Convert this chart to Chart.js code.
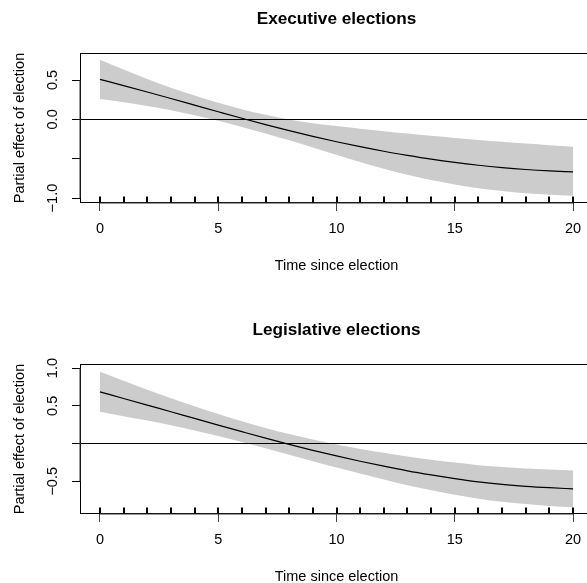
<!DOCTYPE html>
<html>
<head>
<meta charset="utf-8">
<script src="https://cdn.jsdelivr.net/npm/chart.js@4/dist/chart.umd.min.js"></script>
<style>
  html, body { margin: 0; padding: 0; background: #fff; }
  #wrap { position: relative; width: 587px; height: 583px; overflow: hidden; background: #fff; }
  canvas { position: absolute; left: 0; }
</style>
</head>
<body>
<div id="wrap">
  <canvas id="c1" width="600" height="311" style="top:0px"></canvas>
  <canvas id="c2" width="600" height="311" style="top:311px"></canvas>
</div>
<script>
// ---------------- data ----------------
const years = [0, 1, 2, 3, 4, 5, 6, 7, 8, 9, 10, 11, 12, 13, 14, 15, 16, 17, 18, 19, 20];
const rugYears = [0, 1, 2, 3, 4, 5, 6, 7, 8, 9, 10, 11, 12, 13, 14, 15, 16, 17, 18, 19, 20];

const execTitle = 'Executive elections';
const execEffect = [0.508, 0.429, 0.348, 0.265, 0.181, 0.097, 0.014, -0.066, -0.143, -0.216, -0.284, -0.347, -0.405, -0.457, -0.505, -0.547, -0.583, -0.613, -0.637, -0.655, -0.668];
const execUpper  = [0.758, 0.632, 0.512, 0.402, 0.302, 0.212, 0.130, 0.058, -0.002, -0.048, -0.085, -0.119, -0.150, -0.180, -0.209, -0.236, -0.262, -0.286, -0.308, -0.329, -0.347];
const execLower  = [0.258, 0.218, 0.171, 0.116, 0.053, -0.018, -0.096, -0.179, -0.266, -0.356, -0.449, -0.541, -0.627, -0.705, -0.772, -0.828, -0.874, -0.910, -0.938, -0.958, -0.972];
const execYTicks  = [-1, -0.5, 0, 0.5];
const execYLabels = ['\u22121.0', '', '0.0', '0.5'];

const legTitle = 'Legislative elections';
const legEffect = [0.685, 0.597, 0.509, 0.421, 0.333, 0.245, 0.158, 0.072, -0.011, -0.090, -0.164, -0.234, -0.300, -0.362, -0.416, -0.465, -0.508, -0.541, -0.566, -0.585, -0.600];
const legUpper  = [0.950, 0.832, 0.714, 0.601, 0.493, 0.390, 0.295, 0.207, 0.126, 0.053, -0.012, -0.071, -0.123, -0.172, -0.214, -0.252, -0.286, -0.311, -0.330, -0.344, -0.356];
const legLower  = [0.420, 0.362, 0.304, 0.241, 0.173, 0.100, 0.021, -0.063, -0.148, -0.233, -0.316, -0.397, -0.477, -0.552, -0.618, -0.678, -0.730, -0.771, -0.802, -0.826, -0.844];
const legYTicks  = [-0.5, 0, 0.5, 1];
const legYLabels = ['\u22120.5', '', '0.5', '1.0'];

const xTickValues = [0, 5, 10, 15, 20];
const xTickLabels = ['0', '5', '10', '15', '20'];
const xTitle = 'Time since election';
const yTitle = 'Partial effect of election';

// ---------------- drawing ----------------
const FONT = 'Liberation Sans, Arial, Helvetica, sans-serif';

const framePlugin = {
  id: 'frame',
  afterDatasetsDraw(chart, args, opts) {
    const {ctx, chartArea: a, scales} = chart;
    const x = scales.x, y = scales.y;
    ctx.save();
    ctx.strokeStyle = '#000';
    ctx.lineWidth = 1;
    const L = Math.round(a.left) - 0.5, T = Math.round(a.top) - 0.5;
    const R = Math.round(a.right) + 0.5, B = Math.round(a.bottom) + 0.5;
    ctx.strokeRect(L, T, R - L, B - T);
    // axis lines (tick range), as R's axis() draws them
    ctx.beginPath();
    ctx.moveTo(x.getPixelForValue(opts.xTicks[0]), B + 0.5);
    ctx.lineTo(x.getPixelForValue(opts.xTicks[opts.xTicks.length - 1]), B + 0.5);
    ctx.moveTo(L - 0.5, y.getPixelForValue(opts.yTicks[0]));
    ctx.lineTo(L - 0.5, y.getPixelForValue(opts.yTicks[opts.yTicks.length - 1]));
    ctx.strokeStyle = '#333';
    ctx.stroke();
    // rug
    ctx.strokeStyle = '#000';
    ctx.lineWidth = 2;
    ctx.beginPath();
    for (const v of opts.rug) {
      const px = Math.round(x.getPixelForValue(v));
      ctx.moveTo(px, B);
      ctx.lineTo(px, B - 6);
    }
    ctx.stroke();
    ctx.restore();
  }
};

function pts(arr) { return years.map((t, i) => ({x: t, y: arr[i]})); }

function makeChart(id, title, effect, upper, lower, yTicks, yLabels, yMin, yMax) {
  return new Chart(document.getElementById(id), {
    type: 'line',
    data: {
      datasets: [
        { data: pts(upper), borderWidth: 0, pointRadius: 0, fill: '+1',
          backgroundColor: '#cccccc', borderColor: 'rgba(0,0,0,0)', cubicInterpolationMode: 'monotone' },
        { data: pts(lower), borderWidth: 0, pointRadius: 0, fill: false,
          borderColor: 'rgba(0,0,0,0)', cubicInterpolationMode: 'monotone' },
        { data: pts(effect), borderWidth: 1.2, pointRadius: 0, fill: false,
          borderColor: '#000', cubicInterpolationMode: 'monotone' }
      ]
    },
    options: {
      responsive: false,
      animation: false,
      devicePixelRatio: 1,
      layout: { padding: { left: 0, right: 8, top: 0, bottom: 0 } },
      plugins: {
        legend: { display: false },
        tooltip: { enabled: false },
        filler: { drawTime: 'beforeDraw' },
        title: {
          display: true, text: title, color: '#000', fullSize: false,
          font: { family: FONT, size: 17.2, weight: 'bold' },
          padding: { top: 8.7, bottom: 24.7 }
        },
        frame: { rug: rugYears, xTicks: xTickValues, yTicks: yTicks }
      },
      scales: {
        x: {
          type: 'linear', min: -0.8, max: 20.8,
          afterBuildTicks: s => { s.ticks = xTickValues.map(v => ({value: v})); },
          afterFit: s => { s.height = 109; },
          border: { display: false },
          grid: { drawOnChartArea: false, drawTicks: true, tickLength: 9, tickColor: '#444', tickWidth: 1 },
          ticks: {
            color: '#000', font: { family: FONT, size: 14.5 }, padding: 9.3,
            maxRotation: 0, minRotation: 0,
            callback: v => { const i = xTickValues.indexOf(v); return i >= 0 ? xTickLabels[i] : ''; }
          },
          title: { display: true, text: xTitle, color: '#000', font: { family: FONT, size: 14.5 },
                   padding: { top: 0, bottom: 36.8 } }
        },
        y: {
          type: 'linear', min: yMin, max: yMax,
          afterBuildTicks: s => { s.ticks = yTicks.map(v => ({value: v})); },
          afterFit: s => { s.width = 81; },
          border: { display: false },
          grid: {
            drawOnChartArea: true, drawTicks: true, tickLength: 9, tickColor: '#000', tickWidth: 1,
            lineWidth: 1,
            color: c => (c.tick && c.tick.value === 0) ? '#000' : 'rgba(0,0,0,0)'
          },
          ticks: {
            color: '#000', font: { family: FONT, size: 14.5 }, padding: 4.4,
            minRotation: 90, maxRotation: 90, crossAlign: 'center',
            callback: v => { const i = yTicks.indexOf(v); return i >= 0 ? yLabels[i] : ''; }
          },
          title: { display: true, text: yTitle, color: '#000', font: { family: FONT, size: 14.5 },
                   padding: { top: 11.3, bottom: 0 } }
        }
      }
    },
    plugins: [framePlugin]
  });
}

makeChart('c1', execTitle, execEffect, execUpper, execLower, execYTicks, execYLabels, -1.05, 0.83);
makeChart('c2', legTitle, legEffect, legUpper, legLower, legYTicks, legYLabels, -0.92, 1.04);
</script>
</body>
</html>
